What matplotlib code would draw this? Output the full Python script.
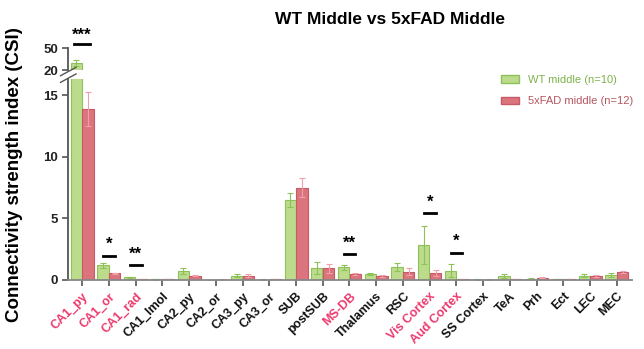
import numpy as np
import matplotlib
matplotlib.use("Agg")
import matplotlib.pyplot as plt
from matplotlib.patches import Patch

plt.rcParams['font.family'] = ['Liberation Sans', 'DejaVu Sans']

regions = ["CA1_py", "CA1_or", "CA1_rad", "CA1_lmol", "CA2_py", "CA2_or", "CA3_py", "CA3_or",
           "SUB", "postSUB", "MS-DB", "Thalamus", "RSC", "Vis Cortex", "Aud Cortex", "SS Cortex",
           "TeA", "Prh", "Ect", "LEC", "MEC"]
highlight = ["CA1_py", "CA1_or", "CA1_rad", "MS-DB", "Vis Cortex", "Aud Cortex"]

wt_mean = [30.0, 1.2, 0.2, 0.05, 0.7, 0.02, 0.35, 0.03, 6.5, 0.95, 1.03, 0.48, 1.03, 2.85, 0.76, 0.03,
           0.32, 0.1, 0.08, 0.35, 0.4]
wt_err = [4.0, 0.2, 0.05, 0.02, 0.25, 0.01, 0.15, 0.01, 0.55, 0.5, 0.2, 0.1, 0.32, 1.55, 0.55, 0.01,
          0.15, 0.04, 0.03, 0.1, 0.2]
fad_mean = [13.9, 0.55, 0.08, 0.08, 0.35, 0.03, 0.35, 0.05, 7.5, 0.95, 0.48, 0.3, 0.67, 0.55, 0.05, 0.03,
            0.08, 0.18, 0.08, 0.3, 0.63]
fad_err = [1.4, 0.05, 0.02, 0.02, 0.05, 0.01, 0.15, 0.01, 0.8, 0.35, 0.05, 0.1, 0.28, 0.25, 0.02, 0.01,
           0.03, 0.04, 0.03, 0.1, 0.08]

# significance: (index, stars, bar height in lower-axis units)
sig_idx = [1, 2, 10, 13, 14]
sig_txt = ["*", "**", "**", "*", "*"]
sig_y = [1.95, 1.2, 2.1, 5.4, 2.2]

green_face, green_edge = "#bcdc8c", "#8fc15a"
red_face, red_edge = "#dc747e", "#c65a66"
pink = "#ec3a6d"

fig = plt.figure(figsize=(6.44, 3.49), dpi=100)
ax = fig.add_axes([0.106, 0.198, 0.875, 0.575])
axt = fig.add_axes([0.106, 0.799, 0.875, 0.063])

x = np.arange(len(regions))
w = 0.42
for a in (ax, axt):
    a.bar(x - w / 2 - 0.01, wt_mean, w, color=green_face, edgecolor=green_edge, linewidth=0.8,
          yerr=wt_err, error_kw=dict(ecolor=green_edge, elinewidth=0.8, capsize=2.5, capthick=0.8))
    a.bar(x + w / 2 + 0.01, fad_mean, w, color=red_face, edgecolor=red_edge, linewidth=0.8,
          yerr=fad_err, error_kw=dict(ecolor="#f0a0a8", elinewidth=0.8, capsize=2.5, capthick=0.8))
    a.set_xlim(-0.52, len(regions) - 0.44)
    for s in ("top", "right"):
        a.spines[s].set_visible(False)
    a.spines["left"].set_color("#555555")
    a.spines["left"].set_linewidth(1.3)
    a.tick_params(axis="y", labelsize=9.5, width=1.2, length=4, colors="#555555", labelcolor="#222222")

ax.set_ylim(0, 16.3)
ax.set_yticks([0, 5, 10, 15])
for lbl in ax.get_yticklabels():
    lbl.set_fontweight("bold")
ax.spines["bottom"].set_color("#888888")
ax.spines["bottom"].set_linewidth(1.3)
ax.tick_params(axis="x", length=4, width=1.2, colors="#555555")
ax.set_xticks(x)
ax.set_xticklabels(regions, rotation=45, ha="right", rotation_mode="anchor", fontsize=9, fontweight="bold")
for lbl in ax.get_xticklabels():
    lbl.set_color(pink if lbl.get_text() in highlight else "#111111")

axt.set_ylim(20, 50)
axt.set_yticks([20, 50])
for lbl in axt.get_yticklabels():
    lbl.set_fontweight("bold")
axt.spines["bottom"].set_visible(False)
axt.set_xticks([])

# break marks
d = 0.012
kw = dict(transform=fig.transFigure, color="#555555", linewidth=1.0, clip_on=False)
xl = 0.106
for yb in (0.795, 0.776):
    fig.add_artist(plt.Line2D([xl - d, xl + d], [yb - d, yb + d], **kw))

# significance
for i, t, yy in zip(sig_idx, sig_txt, sig_y):
    ax.plot([i - 0.22, i + 0.22], [yy, yy], color="black", linewidth=2)
    ax.text(i, yy + 0.3, t, ha="center", va="bottom", fontsize=12, fontweight="bold")
axt.plot([-0.3, 0.3], [55, 55], color="black", linewidth=2, clip_on=False)
axt.text(0, 58, "***", ha="center", va="bottom", fontsize=12, fontweight="bold", clip_on=False)

fig.text(0.022, 0.5, "Connectivity strength index (CSI)", rotation=90, ha="center", va="center",
         fontsize=13.5, fontweight="bold")
fig.text(0.605, 0.945, "WT Middle vs 5xFAD Middle", ha="center", va="center", fontsize=12.5, fontweight="bold")

handles = [Patch(facecolor=green_face, edgecolor=green_edge, label="WT middle (n=10)"),
           Patch(facecolor=red_face, edgecolor=red_edge, label="5xFAD middle (n=12)")]
leg = ax.legend(handles=handles, loc="upper left", bbox_to_anchor=(0.75, 1.07), frameon=False,
                fontsize=8, handlelength=1.6, handleheight=0.7, labelspacing=1.0)
leg.get_texts()[0].set_color("#7fb24a")
leg.get_texts()[1].set_color("#b55560")

fig.savefig("out.png", dpi=100)
